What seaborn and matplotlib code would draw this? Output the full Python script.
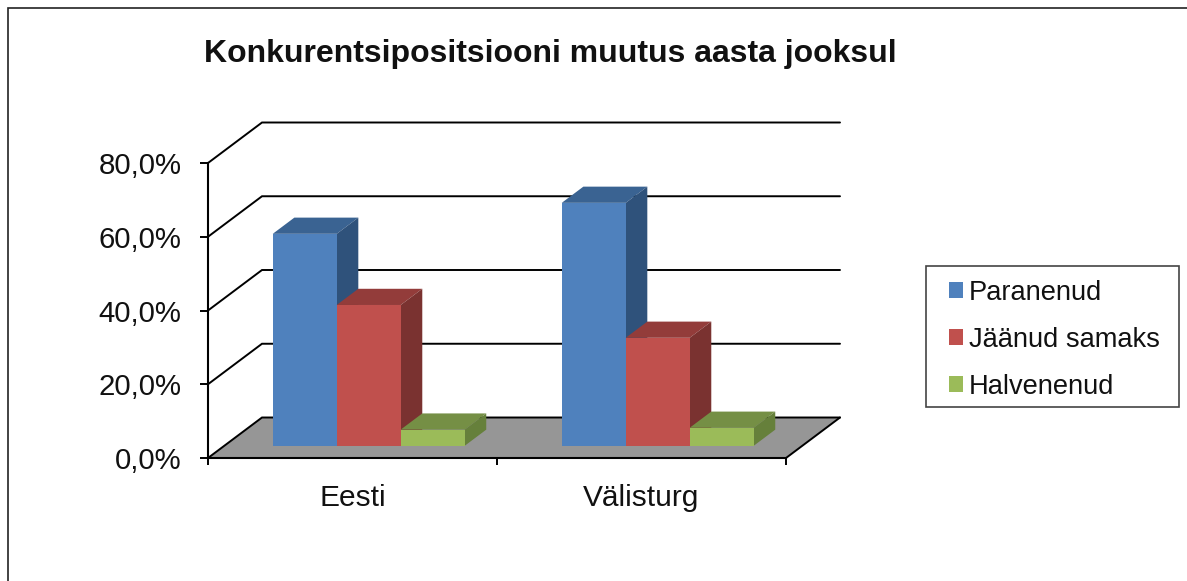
import matplotlib
matplotlib.use("Agg")
import matplotlib.pyplot as plt
import pandas as pd
import seaborn as sns
from matplotlib.lines import Line2D
from matplotlib.patches import Polygon, Rectangle

categories = ["Eesti", "Välisturg"]
series = ["Paranenud", "Jäänud samaks", "Halvenenud"]
paranenud = [57.5, 65.9]
jaanud = [38.2, 29.3]
halvenenud = [4.4, 4.9]
yticks = [0, 20, 40, 60, 80]
ytick_labels = ["0,0%", "20,0%", "40,0%", "60,0%", "80,0%"]

front_cols = ["#4F81BD", "#C0504D", "#9BBB59"]
top_cols = ["#3A6392", "#933C3A", "#758F45"]
side_cols = ["#2F527B", "#7A3230", "#66803B"]

W, H = 1187, 581
sns.set_theme(style="white")
plt.rcParams["font.family"] = ["Liberation Sans"]

df = pd.DataFrame({
    "cat": categories * 3,
    "serie": [s for s in series for _ in categories],
    "val": paranenud + jaanud + halvenenud,
})

fig = plt.figure(figsize=(W / 100, H / 100), dpi=100, facecolor="white")
ax = fig.add_axes([208 / W, 1 - 458 / H, 578 / W, 295 / H])
sns.barplot(data=df, x="cat", y="val", hue="serie", hue_order=series, palette=front_cols,
            saturation=1, width=0.664, gap=0, dodge=True, errorbar=None, linewidth=0, ax=ax)
handles, labels = ax.get_legend_handles_labels()
ax.get_legend().remove()

ax.set_xlim(-0.5, 1.5)
ax.set_ylim(0, 80)
ax.set_xlabel("")
ax.set_ylabel("")
ax.patch.set_alpha(0)

# depth of the fake 3d box, in data units
DX = 54 / 289
DY = 40.5 / (295 / 80)
x0, x1 = ax.get_xlim()

ax.add_patch(Polygon([(x0, 0), (x0 + DX, DY), (x1 + DX, DY), (x1, 0)], closed=True,
                     facecolor="#969696", edgecolor="none", zorder=1, clip_on=False))
for v in yticks:
    ax.plot([x0, x0 + DX, x1 + DX], [v, v + DY, v + DY], color="black", lw=1.4,
            zorder=1.5, clip_on=False, solid_joinstyle="miter")
ax.plot([x1, x1 + DX], [0, DY], color="black", lw=1.4, zorder=1.6, clip_on=False)

# bars sit between 30% and 70% of the depth
z = 3
for c in range(len(categories)):
    for s, cont in enumerate(ax.containers):
        bar = cont[c]
        bar.set_x(bar.get_x() + 0.3 * DX)
        bar.set_y(0.3 * DY)
        bx, by, bw, bh = bar.get_x(), bar.get_y(), bar.get_width(), bar.get_height()
        ddx, ddy = 0.4 * DX, 0.4 * DY
        ax.add_patch(Polygon([(bx, by + bh), (bx + ddx, by + bh + ddy), (bx + bw + ddx, by + bh + ddy), (bx + bw, by + bh)],
                             closed=True, facecolor=top_cols[s], edgecolor="none", zorder=z, clip_on=False))
        ax.add_patch(Polygon([(bx + bw, by), (bx + bw + ddx, by + ddy), (bx + bw + ddx, by + bh + ddy), (bx + bw, by + bh)],
                             closed=True, facecolor=side_cols[s], edgecolor="none", zorder=z, clip_on=False))
        bar.set_zorder(z + 0.5)
        z += 1

for sp in ["top", "right"]:
    ax.spines[sp].set_visible(False)
for sp in ["left", "bottom"]:
    ax.spines[sp].set_color("black")
    ax.spines[sp].set_linewidth(1.5)
    ax.spines[sp].set_zorder(2)

ax.set_yticks(yticks)
ax.set_yticklabels(ytick_labels, fontsize=21.2, color="#111111")
ax.set_xticks([0, 1])
ax.set_xticklabels(categories, fontsize=21.5, color="#111111")
ax.set_xticks([-0.5, 0.5, 1.5], minor=True)
ax.tick_params(axis="y", left=True, length=6, width=1.4, color="black", pad=13)
ax.tick_params(axis="x", which="major", bottom=False, length=0, pad=19)
ax.tick_params(axis="x", which="minor", bottom=True, length=5, width=1.4, color="black")

fig.text(550 / W, 1 - 54 / H, "Konkurentsipositsiooni muutus aasta jooksul", ha="center", va="center",
         fontsize=23, fontweight="bold", color="#111111")

fig.add_artist(Rectangle((926 / W, 1 - 407 / H), 253 / W, 141 / H, transform=fig.transFigure,
                         facecolor="white", edgecolor="#444444", lw=1.2))
fig.legend(handles, labels, loc="upper left", bbox_to_anchor=(949 / W, 1 - 279.5 / H), borderaxespad=0,
           fontsize=19.6, frameon=False, borderpad=0, labelspacing=0.78, handlelength=0.53,
           handleheight=0.53, handletextpad=0.19, labelcolor="#111111")

fig.add_artist(Line2D([8 / W, 8 / W, 1], [0, 1 - 8 / H, 1 - 8 / H], color="#222222", lw=1.2,
                      transform=fig.transFigure, solid_joinstyle="miter"))

fig.savefig("out.png", dpi=100)
